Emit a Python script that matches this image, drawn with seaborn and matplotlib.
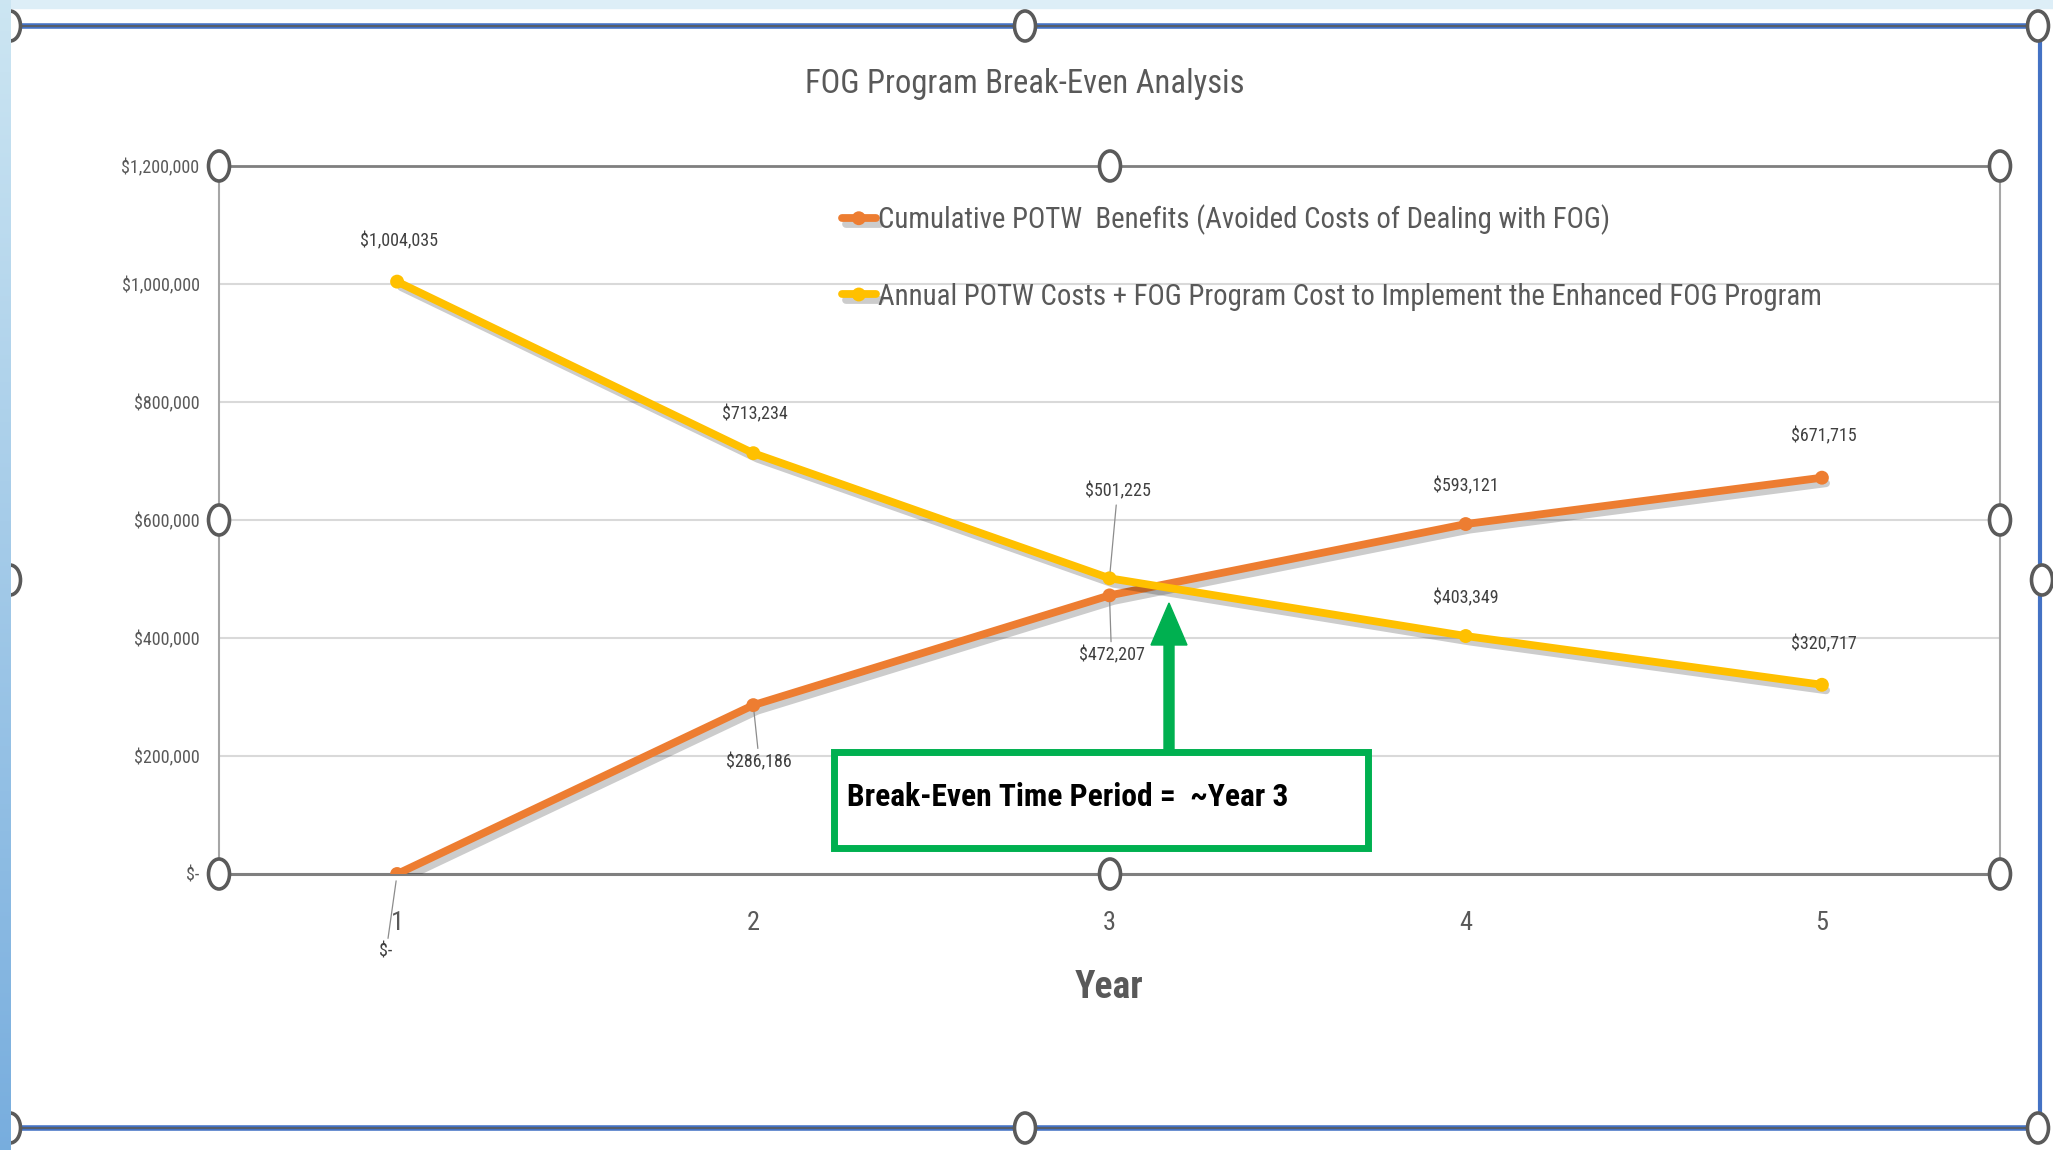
import numpy as np
import pandas as pd
import matplotlib
matplotlib.use("Agg")
import matplotlib.pyplot as plt
import matplotlib.patheffects as pe
from matplotlib import patches, font_manager
from matplotlib.ticker import FuncFormatter
import seaborn as sns

# ---- data -------------------------------------------------------------
years = [1, 2, 3, 4, 5]
benefits = [0, 286186, 472207, 593121, 671715]
costs = [1004035, 713234, 501225, 403349, 320717]
series_names = [
    "Cumulative POTW  Benefits (Avoided Costs of Dealing with FOG)",
    "Annual POTW Costs + FOG Program Cost to Implement the Enhanced FOG Program",
]
y_ticks = [0, 200000, 400000, 600000, 800000, 1000000, 1200000]
chart_title = "FOG Program Break-Even Analysis"
x_title = "Year"
callout_text = "Break-Even Time Period =  ~Year 3"

# ---- style ------------------------------------------------------------
W, H = 2053, 1150
ORANGE = "#ED7D31"
GOLD = "#FFC000"
GREEN = "#00B050"
GREY_TXT = "#595959"
LABEL_TXT = "#404040"

sns.set_theme(style="white")
available = {f.name for f in font_manager.fontManager.ttflist}
narrow = next((n for n in ["Liberation Sans Narrow", "Roboto Condensed",
                           "Open Sans Condensed", "Liberation Sans"]
               if n in available), "DejaVu Sans")
plt.rcParams["font.family"] = [narrow, "DejaVu Sans"]

fig = plt.figure(figsize=(W / 100, H / 100), dpi=100)
fig.patch.set_facecolor("white")
PX = fig.dpi_scale_trans  # inches; helpers below convert from pixels


def P(x, y):
    """pixel position (origin top-left) -> inches for dpi_scale_trans"""
    return (x / 100.0, (H - y) / 100.0)


# ---- plot area --------------------------------------------------------
ax = fig.add_axes([219 / W, 1 - 874 / H, 1781 / W, 708 / H])
df = pd.DataFrame({
    "Year": years * 2,
    "Value": benefits + costs,
    "Series": [series_names[0]] * len(years) + [series_names[1]] * len(years),
})
shadow = [pe.SimpleLineShadow(offset=(3, -4), shadow_color="black", alpha=0.2),
          pe.Normal()]
sns.lineplot(data=df, x="Year", y="Value", hue="Series",
             hue_order=series_names,
             palette={series_names[0]: ORANGE, series_names[1]: GOLD},
             marker="o", markersize=10, markeredgewidth=0,
             linewidth=5.6, sort=False, legend=False, ax=ax,
             path_effects=shadow, zorder=4)

ax.set_xlim(0.5, 5.5)
ax.set_ylim(0, 1200000)
ax.set_xticks(years)
ax.set_yticks(y_ticks)
ax.yaxis.set_major_formatter(
    FuncFormatter(lambda v, _: "$-" if v == 0 else f"${v:,.0f}"))
ax.tick_params(axis="x", length=0, pad=27, labelsize=19, labelcolor=GREY_TXT)
ax.tick_params(axis="y", length=0, pad=14, labelsize=13, labelcolor=GREY_TXT)
ax.grid(axis="y", color="#D9D9D9", linewidth=1.5)
ax.grid(axis="x", visible=False)
ax.set_xlabel(x_title, fontsize=27, fontweight="bold", color=GREY_TXT)
ax.xaxis.set_label_coords(0.5, -114 / 708)
ax.xaxis.label.set_va("center")
ax.set_ylabel("")
for side, col, lw in [("top", "#7F7F7F", 2.0), ("bottom", "#7F7F7F", 2.2),
                      ("left", "#A6A6A6", 1.5), ("right", "#A6A6A6", 1.5)]:
    ax.spines[side].set_color(col)
    ax.spines[side].set_linewidth(lw)
    ax.spines[side].set_visible(True)

# data labels: (dx, dy, leader line) in pixels from each point
benefit_offsets = [(-11, -78, True), (6, -57, True), (2, -60, True),
                   (0, 38, False), (2, 41, False)]
cost_offsets = [(2, 40, False), (2, 39, False), (8, 87, True),
                (0, 38, False), (2, 40, False)]
fmt = lambda v: "$-" if v == 0 else f"${v:,.0f}"
for vals, offs in [(benefits, benefit_offsets), (costs, cost_offsets)]:
    for x, v, (dx, dy, lead) in zip(years, vals, offs):
        kw = {}
        if lead:
            kw["arrowprops"] = dict(arrowstyle="-", color="#8C8C8C", lw=0.9,
                                    shrinkA=1, shrinkB=5)
        ax.annotate(fmt(v), xy=(x, v), xytext=(dx, dy),
                    textcoords="offset pixels", ha="center", va="center",
                    fontsize=13, color=LABEL_TXT, zorder=6, **kw)

# legend
leg = ax.legend(handles=ax.lines[:2], labels=series_names, loc="upper left",
                bbox_to_anchor=(0.3415, 0.966), frameon=False, fontsize=20.7,
                labelcolor=GREY_TXT, handlelength=1.2, handletextpad=0.05,
                labelspacing=1.65, borderpad=0)

# chart title
fig.text(*P(1025, 84), chart_title, transform=PX, ha="center", va="center",
         fontsize=23.5, color=GREY_TXT)

# ---- break-even callout -------------------------------------------------
box = patches.Rectangle(P(834, 848), (1368 - 834) / 100, (848 - 752) / 100,
                        transform=PX, facecolor="white", edgecolor=GREEN,
                        linewidth=5, zorder=10)
fig.patches.append(box)
fig.text(*P(847, 797), callout_text, transform=PX, ha="left", va="center",
         fontsize=22.7, fontweight="bold", color="black", zorder=11)
arrow = patches.FancyArrow(*P(1169, 749), 0, (749 - 603) / 100,
                           width=0.10, head_width=0.36, head_length=0.42,
                           length_includes_head=True, transform=PX,
                           color=GREEN, zorder=10)
fig.patches.append(arrow)

# ---- slide surroundings and selection frame -----------------------------
fig.patches.append(patches.Rectangle((0, (H - 8) / 100), W / 100, 0.08,
                                     transform=PX, color="#DDEEF7", zorder=1))
for yy in (26, 1128):
    fig.lines.append(plt.Line2D([0.10, 20.38], [(H - yy) / 100] * 2,
                                transform=PX, color="#4472C4", lw=4, zorder=2))
    fig.lines.append(plt.Line2D([0.10, 20.38], [(H - yy) / 100] * 2,
                                transform=PX, color="#5A5A5A", lw=1.2, zorder=2))
fig.lines.append(plt.Line2D([20.40, 20.40], [(H - 26) / 100, (H - 1128) / 100],
                            transform=PX, color="#4472C4", lw=3, zorder=2))

handles = [(10, 26), (1025, 26), (2038, 26), (10, 580), (2042, 580),
           (10, 1128), (1025, 1128), (2038, 1128),
           (219, 166), (1110, 166), (2000, 166), (219, 520), (2000, 520),
           (219, 874), (1110, 874), (2000, 874)]
for hx, hy in handles:
    fig.patches.append(patches.Ellipse(P(hx, hy), 0.21, 0.30, transform=PX,
                                       facecolor="white", edgecolor="#5A5A5A",
                                       linewidth=2.6, zorder=12))

# blue gradient strip along the left edge of the slide
strip = fig.add_axes([0, 0, 11 / W, 1], zorder=20)
grad = np.linspace(0, 1, 256)[:, None]
top_c = np.array([0.80, 0.90, 0.95])
bot_c = np.array([0.47, 0.68, 0.87])
img = top_c * (1 - grad[..., None]) + bot_c * grad[..., None]
strip.imshow(img, aspect="auto", extent=(0, 1, 0, 1))
strip.set_axis_off()

fig.savefig("out.png", dpi=100)
